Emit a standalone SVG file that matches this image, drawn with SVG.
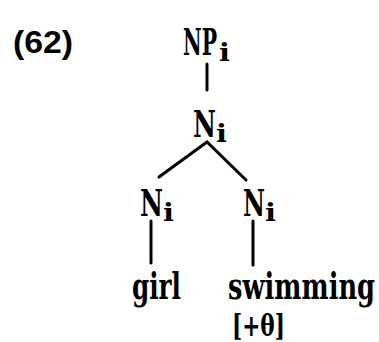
<svg xmlns="http://www.w3.org/2000/svg" width="379" height="342" viewBox="0 0 379 342">
  <style>
    .lbl { font-family: "DejaVu Serif", "Liberation Serif", serif; font-weight: bold; font-size: 37px; fill: #000; }
    .sub { font-family: "DejaVu Serif", "Liberation Serif", serif; font-weight: bold; font-size: 24px; fill: #000; }
    .num { font-family: "Liberation Sans", "DejaVu Sans", sans-serif; font-weight: bold; font-size: 31px; fill: #000; }
    .edge { stroke: #000; stroke-width: 3; fill: none; stroke-linecap: round; stroke-linejoin: miter; }
  </style>
  <rect width="379" height="342" fill="#fff"/>
  <text class="num" x="13" y="53" textLength="60" lengthAdjust="spacingAndGlyphs">(62)</text>

  <g id="connectors">
    <line class="edge" x1="207" y1="64" x2="207" y2="90"/>
    <polyline class="edge" points="159,177 207,142 246,180"/>
    <line class="edge" x1="151" y1="221" x2="151" y2="263"/>
    <line class="edge" x1="253" y1="221" x2="253" y2="265"/>
  </g>

  <g id="np">
    <text class="lbl" x="183" y="55" textLength="34" lengthAdjust="spacingAndGlyphs">NP</text>
    <text class="sub" x="219" y="61" textLength="11" lengthAdjust="spacingAndGlyphs">i</text>
  </g>
  <g id="n-top">
    <text class="lbl" x="193" y="137" textLength="23" lengthAdjust="spacingAndGlyphs">N</text>
    <text class="sub" x="216" y="142" textLength="11" lengthAdjust="spacingAndGlyphs">i</text>
  </g>
  <g id="n-left">
    <text class="lbl" x="140" y="216" textLength="23" lengthAdjust="spacingAndGlyphs">N</text>
    <text class="sub" x="163" y="221" textLength="11" lengthAdjust="spacingAndGlyphs">i</text>
  </g>
  <g id="n-right">
    <text class="lbl" x="243" y="216" textLength="22" lengthAdjust="spacingAndGlyphs">N</text>
    <text class="sub" x="265" y="221" textLength="11" lengthAdjust="spacingAndGlyphs">i</text>
  </g>
  <g id="girl">
    <text class="lbl" x="132" y="299" textLength="49" lengthAdjust="spacingAndGlyphs">girl</text>
  </g>
  <g id="swimming">
    <text class="lbl" x="228" y="299" textLength="147" lengthAdjust="spacingAndGlyphs">swimming</text>
    <text class="lbl" x="232" y="336" textLength="53" lengthAdjust="spacingAndGlyphs" style="font-size:29px">[+θ]</text>
  </g>
</svg>
